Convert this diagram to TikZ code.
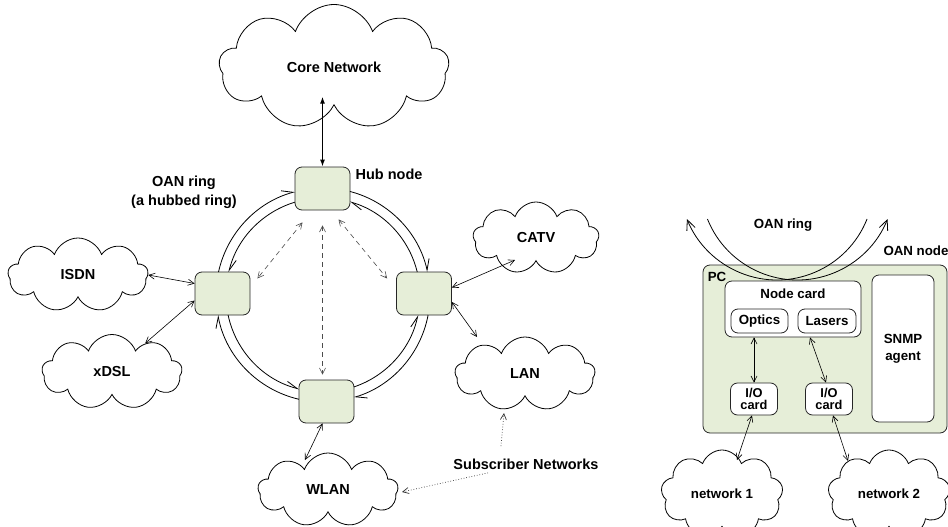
\documentclass[tikz,border=0pt]{standalone}
\usepackage{fontspec}
\setmainfont{Liberation Sans}
\usetikzlibrary{shapes.symbols,arrows.meta,calc}
\definecolor{nodegreen}{RGB}{230,238,216}

\tikzset{
  txt/.style={font=\bfseries\fontsize{14.5}{19}\selectfont},
  smalltxt/.style={font=\bfseries\fontsize{13.3}{17}\selectfont},
  net/.style={draw, cloud, cloud puffs=9, cloud puff arc=140, cloud ignores aspect, line width=0.8pt, inner sep=0pt},
  ringbox/.style={draw=black!85, fill=nodegreen, rounded corners=7pt, line width=0.8pt, minimum width=55pt, minimum height=43pt},
  cardbox/.style={draw=black!85, fill=white, rounded corners=7pt, line width=0.8pt, smalltxt, align=center, inner sep=0pt},
  iobox/.style={cardbox, font=\bfseries\fontsize{12.8}{12}\selectfont, minimum width=47pt, minimum height=32pt},
  sbarb/.tip={Straight Barb[length=6pt,width=6pt]},
  link/.style={sbarb-sbarb, line width=0.6pt},
  corelink/.style={{Latex[length=7pt,width=5pt]}-{Latex[length=7pt,width=5pt]}, line width=1.2pt},
  dashlink/.style={link, dash pattern=on 5pt off 4pt, draw=black!70},
  dotlink/.style={-sbarb, dotted, line width=0.7pt, draw=black!80},
  ringflow/.style={-{Straight Barb[harpoon,length=11pt,width=9pt]}, line width=0.8pt},
  oanarc/.style={-{Straight Barb[length=10pt,width=9pt]}, line width=0.8pt},
}

\begin{document}
\begin{tikzpicture}[x=1pt,y=-1pt]
\useasboundingbox (0,0) rectangle (948,527);

% networks
\node[net, txt, minimum width=230pt, minimum height=125pt] at (334,67) (core) {Core Network};
\node[net, txt, minimum width=140pt, minimum height=74pt] at (78,275) (isdn) {ISDN};
\node[net, txt, minimum width=140pt, minimum height=75pt] at (112,372) (xdsl) {xDSL};
\node[net, txt, minimum width=126pt, minimum height=72pt] at (536,238) (catv) {CATV};
\node[net, txt, minimum width=140pt, minimum height=74pt] at (525,374) (lan) {LAN};
\node[net, txt, minimum width=140pt, minimum height=74pt] at (328,490) (wlan) {WLAN};
\node[net, smalltxt, minimum width=122pt, minimum height=88pt] at (722,494) (net1) {network 1};
\node[net, smalltxt, minimum width=122pt, minimum height=88pt] at (889,494) (net2) {network 2};

% ring nodes
\node[ringbox] at (322.5,188.5) (hub) {};
\node[ringbox] at (222.5,293.5) (lft) {};
\node[ringbox] at (424,293.5) (rgt) {};
\node[ringbox] at (326.5,401.5) (btm) {};
\coordinate (ctr) at (323,295);

\node[txt] at (389,174) (hublbl) {Hub node};
\node[txt, align=center] at (184,192) (ringlbl) {OAN ring\\(a hubbed ring)};
\node[txt] at (526,464) (subs) {Subscriber Networks};

% ring: outer clockwise, inner counter-clockwise
\foreach \a/\b in {167.6/105.2, 75.4/12.4, 349.2/286.8, 257/190.8}
  \draw[ringflow] ($(ctr)+(\a:107pt)$) arc[start angle=\a, end angle=\b, radius=107pt];
\foreach \a/\b in {106.8/166.3, 191.9/255.7, 288.6/348.1, 13.7/73.8}
  \draw[ringflow] ($(ctr)+(\a:97pt)$) arc[start angle=\a, end angle=\b, radius=97pt];

\draw[corelink] ($(core.south -| hub.north)+(0,-9)$) -- (hub.north);
\draw[link] ($(lft.west)+(0,-10)$) -- (isdn.east);
\draw[link] ($(lft.west)+(0,7)$) -- (xdsl);
\draw[link] ($(rgt.east)+(0,-6)$) -- ($(catv)+(-21,22)$);
\draw[link] ($(rgt.east)+(0,8.5)$) -- ($(lan)+(-48,-37)$);
\draw[link] ($(btm.south)+(-4,0)$) -- ($(wlan)+(-23,-30)$);
\draw[dashlink] ($(hub.south)+(-20,12)$) -- ($(lft.east)+(7,-15)$);
\draw[dashlink] ($(hub.south)+(16,9)$) -- ($(rgt.west)+(-9,-15)$);
\draw[dashlink] ($(hub.south)+(0,15)$) -- ($(btm.north -| hub.south)+(0,-5)$);
\draw[dotlink] ($(subs.north)+(-25,-9)$) -- ($(lan)+(-21,39)$);
\draw[dotlink] ($(subs.south)+(-38,0)$) -- ($(wlan)+(74,2)$);

% OAN node
\node[cardbox, fill=nodegreen, minimum width=244pt, minimum height=168pt] at (825,349) (pc) {};
\node[smalltxt] at (717,277) (pclbl) {PC};
\node[smalltxt] at (916,251) (nodelbl) {OAN node};
\node[smalltxt] at (783,225) (oanlbl) {OAN ring};

\coordinate (arcA) at (777,183);
\coordinate (arcB) at (797.5,183);
\draw[oanarc] ($(arcA)+(338.2:97pt)$) arc[start angle=338.2, end angle=201.8, radius=97pt];
\draw[oanarc] ($(arcB)+(201.8:97pt)$) arc[start angle=201.8, end angle=338.2, radius=97pt];

\node[cardbox, minimum width=136pt, minimum height=56pt] at (793,309) (card) {};
\node[smalltxt] at (793,294) (cardlbl) {Node card};
\node[cardbox, minimum width=57pt, minimum height=24pt] at (759.5,321) (optics) {Optics};
\node[cardbox, minimum width=58pt, minimum height=24pt] at (827,321) (lasers) {Lasers};
\node[cardbox, minimum width=62pt, minimum height=147pt] at (903,348.5) (snmp) {SNMP\\agent};
\node[iobox] at (754,399) (io1) {I/O\\card};
\node[iobox] at (829,399) (io2) {I/O\\card};

\draw[link] (card.south -| io1.north) -- (io1.north);
\draw[link] ($(card.south)+(17,0)$) -- ($(io2.north)+(-3,0)$);
\draw[link] ($(io1.south)+(-2,0)$) -- ($(net1)+(15,-34)$);
\draw[link] ($(io2.south)+(4,0)$) -- ($(net2)+(-41,-33)$);

\end{tikzpicture}
\end{document}
